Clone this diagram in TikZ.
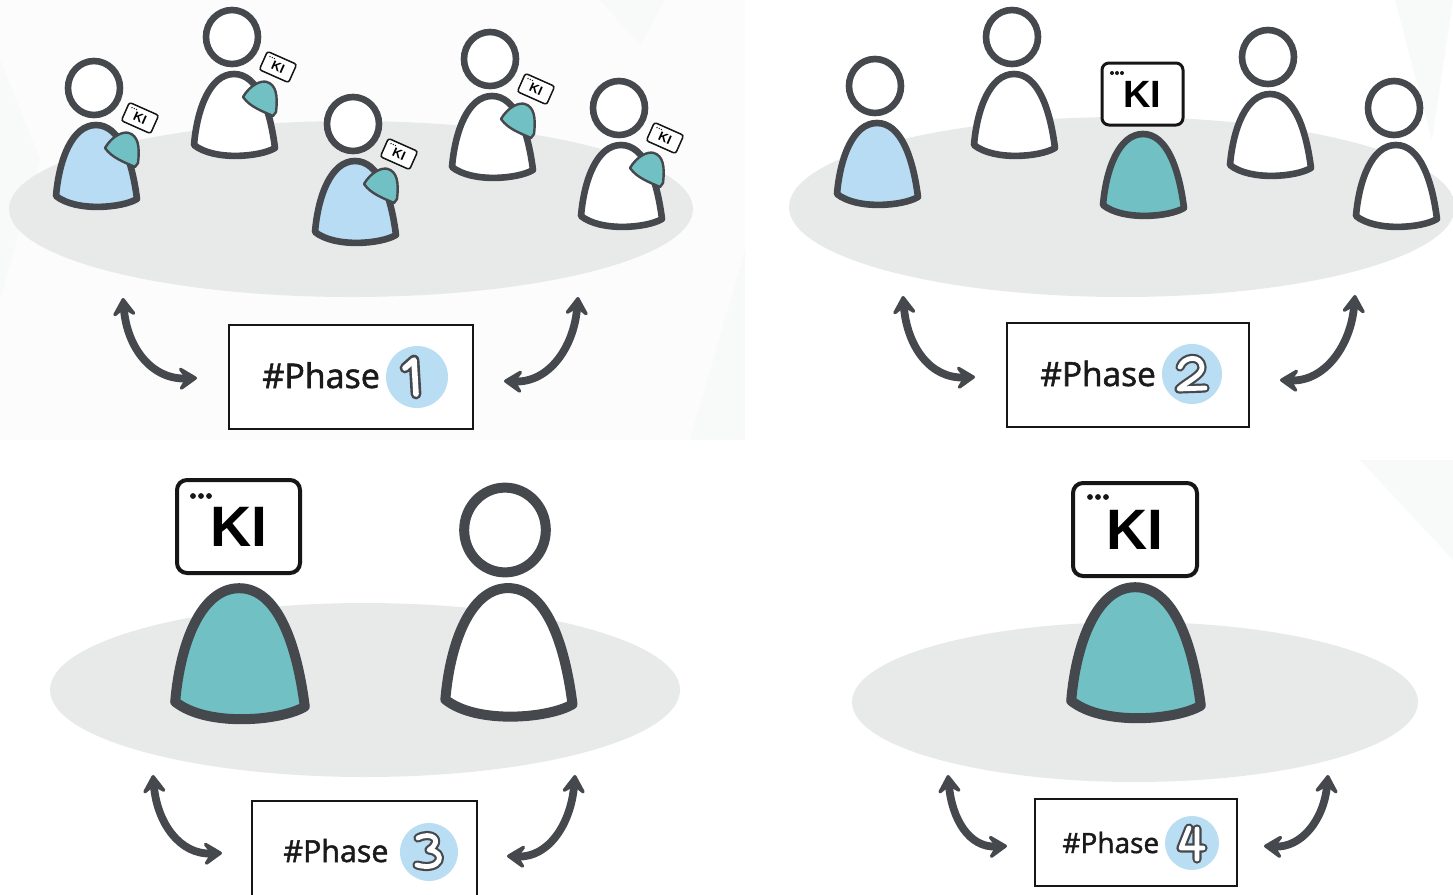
\documentclass[tikz,border=0pt]{standalone}
\usepackage{fontspec}
\setmainfont{Liberation Sans}
\newfontfamily\phasefont{Open Sans}[BoldFont={Open Sans}, BoldFeatures={FakeBold=1.6}]
\usetikzlibrary{arrows.meta,calc}

\definecolor{ink}{HTML}{45484C}
\definecolor{pblue}{HTML}{B8DCF3}
\definecolor{pteal}{HTML}{70C0C4}
\definecolor{floor}{HTML}{E8EAEA}
\definecolor{marker}{HTML}{161616}
\definecolor{txt}{HTML}{1A1A1A}
\definecolor{numblue}{HTML}{B9DDF3}
\definecolor{haze}{HTML}{F8F9F9}
\definecolor{panel}{HTML}{FCFCFC}

\tikzset{
  % bell shaped body, head centre at the origin, y pointing down
  torso/.pic={
    \draw[draw=ink, line join=round, fill=#1]
      (-38,108) .. controls (-35,72) and (-22,37) .. (2,37)
      .. controls (26,37) and (38,72) .. (43,111)
      .. controls (28,120) and (-18,124) .. (-38,108) -- cycle;
  },
  person/.pic={
    \draw[draw=ink, line join=round, fill=#1]
      (-38,108) .. controls (-35,72) and (-22,37) .. (2,37)
      .. controls (26,37) and (38,72) .. (43,111)
      .. controls (28,120) and (-18,124) .. (-38,108) -- cycle;
    \draw[draw=ink, fill=white] (0,0) ellipse (26 and 27);
  },
  % raised hand holding the small device
  arm/.pic={
    \draw[draw=ink, fill=pteal, line width=1.2pt, line join=round]
      (11,60) .. controls (18,48) and (29,43) .. (35,45)
      .. controls (44,48) and (46,58) .. (44,75) -- (41,79)
      .. controls (30,74) and (18,70) .. (11,60) -- cycle;
  },
  small/.style={line width=3.3pt},
  big/.style={line width=5pt},
  tag/.style={draw=marker, fill=white, line width=0.75pt, rounded corners=1.2pt,
    minimum width=16pt, minimum height=10pt, inner sep=0pt,
    font=\bfseries\fontsize{6.4pt}{6.4pt}\selectfont, text=black},
  kibox/.style={draw=marker, fill=white, inner sep=0pt, text=black},
  phasebox/.style={draw=marker, fill=white, line width=1.25pt, inner sep=0pt},
  phasetext/.style={text=txt, inner sep=0pt},
  numdisc/.style={circle, fill=numblue, inner sep=0pt},
  dgout/.style={draw=ink, line width=4.6pt, line cap=round, line join=round},
  dgin/.style={draw=white, line width=2.4pt, line cap=round, line join=round},
  tipshape/.tip={Stealth[length=11.5pt,width=15pt,inset=5pt,round]},
  biarrow/.style={draw=ink, line width=3.9pt, line cap=round, {tipshape}-{tipshape}},
}

% small device held by the people of the first group
\newcommand\handtag[2]{%
  \begin{scope}[shift={(#2)}, rotate=-24]
    \node[tag, transform shape] (#1) at (0,0) {KI};
    \foreach \i in {0,1,2} \fill[marker] (-11.5+\i*2.4,-6.3) circle (0.75);
  \end{scope}}

\newcommand\kidots[3]{%
  \foreach \i in {0,1,2} \fill[marker] ($(#1)+(\i*#2,0)$) circle (#3);}

\begin{document}
\begin{tikzpicture}[x=0.5pt, y=-0.5pt]
\useasboundingbox (0,0) rectangle (1453,895);
\fill[white] (0,0) rectangle (1453,895);

% ---------- faint background facets ----------
\fill[panel] (0,0) rectangle (745,440);
\fill[haze] (0,60) -- (40,160) -- (0,300) -- cycle;
\fill[haze] (600,0) -- (665,0) -- (640,45) -- cycle;
\fill[haze] (1395,0) -- (1453,0) -- (1432,140) -- cycle;
\fill[haze] (690,440) -- (745,250) -- (745,440) -- cycle;
\fill[haze] (1360,460) -- (1453,460) -- (1453,560) -- cycle;

% ---------- floors ----------
\fill[floor] (351,209) ellipse (342 and 88);
\fill[floor] (1122,207) ellipse (333 and 90);
\fill[floor] (365,690) ellipse (315 and 87);
\fill[floor] (1135,702) ellipse (283 and 80);

% ---------- phase 1: everybody uses a small device ----------
\pic[small] at (94,88) {person=pblue};
\pic at (94,88) {arm};
\handtag{t1}{140,118}
\pic[small] at (232,37) {person=white};
\pic at (232,37) {arm};
\handtag{t2}{278,67}
\pic[small] at (353,124) {person=pblue};
\pic at (353,124) {arm};
\handtag{t3}{399,154}
\pic[small] at (490,59) {person=white};
\pic at (490,59) {arm};
\handtag{t4}{536,89}
\pic[small] at (619,108) {person=white};
\pic at (619,108) {arm};
\handtag{t5}{665,138}

% ---------- phase 2: one member is the assistant ----------
\pic[small] at (875,86) {person=pblue};
\pic[small] at (1012,37) {person=white};
\pic[small] at (1141,97) {torso=pteal};
\node[kibox, line width=1.5pt, rounded corners=3.5pt, minimum width=40.5pt, minimum height=31pt,
  font=\bfseries\fontsize{19pt}{19pt}\selectfont] (k2) at (1142.5,94) {KI};
\coordinate (k2d) at (1112,73);
\kidots{k2d}{5}{2}
\pic[small] at (1268,57) {person=white};
\pic[small] at (1394,108) {person=white};

% ---------- phase 3: one person and the assistant ----------
\pic[big, scale=1.6] at (236,529) {torso=pteal};
\node[kibox, line width=2pt, rounded corners=5pt, minimum width=61.5pt, minimum height=46.5pt,
  font=\bfseries\fontsize{28.5pt}{28.5pt}\selectfont] (k3) at (238.5,526.5) {KI};
\coordinate (k3d) at (193,496);
\kidots{k3d}{8}{2.9}
\pic[big, scale=1.57] at (505,530) {person=white};

% ---------- phase 4: the assistant alone ----------
\pic[big, scale=1.6] at (1132,528) {torso=pteal};
\node[kibox, line width=2pt, rounded corners=5pt, minimum width=62pt, minimum height=46.5pt,
  font=\bfseries\fontsize{28.5pt}{28.5pt}\selectfont] (k4) at (1135,529.5) {KI};
\coordinate (k4d) at (1090,497);
\kidots{k4d}{8}{2.9}

% ---------- phase labels ----------
\node[phasebox, minimum width=122pt, minimum height=52pt] (b1) at (351,377) {};
\node[phasetext, anchor=base west, font=\phasefont\bfseries\fontsize{17pt}{17pt}\selectfont] (w1) at (262,388) {\#Phase};
\node[numdisc, minimum size=31pt] (n1) at (417,377) {};
\draw[dgout, line width=5.4pt, shift={(n1.center)}] (-12,-9) -- (-3,-17) -- (-1,17);
\draw[dgin, line width=2.8pt, shift={(n1.center)}] (-12,-9) -- (-3,-17) -- (-1,17);

\node[phasebox, minimum width=121pt, minimum height=52pt] (b2) at (1128,375) {};
\node[phasetext, anchor=base west, font=\phasefont\bfseries\fontsize{16.7pt}{16.7pt}\selectfont] (w2) at (1040,386) {\#Phase};
\node[numdisc, minimum size=30pt] (n2) at (1192,374) {};
\draw[dgout, shift={(n2.center)}] (-12,-7) .. controls (-8,-18) and (9,-19) .. (10,-7)
  .. controls (11,1) and (-6,8) .. (-13,15) -- (13,14);
\draw[dgin, shift={(n2.center)}] (-12,-7) .. controls (-8,-18) and (9,-19) .. (10,-7)
  .. controls (11,1) and (-6,8) .. (-13,15) -- (13,14);

\node[phasebox, minimum width=112.5pt, minimum height=52pt] (b3) at (364.5,853) {};
\node[phasetext, anchor=base west, font=\phasefont\bfseries\fontsize{15.2pt}{15.2pt}\selectfont] (w3) at (283,862) {\#Phase};
\node[numdisc, minimum size=29pt] (n3) at (429,852) {};
\draw[dgout, shift={(n3.center)}] (-11,-14) .. controls (2,-21) and (15,-12) .. (0,-2)
  .. controls (18,0) and (12,20) .. (-12,13);
\draw[dgin, shift={(n3.center)}] (-11,-14) .. controls (2,-21) and (15,-12) .. (0,-2)
  .. controls (18,0) and (12,20) .. (-12,13);

\node[phasebox, minimum width=101pt, minimum height=43.5pt] (b4) at (1136,842.5) {};
\node[phasetext, anchor=base west, font=\phasefont\bfseries\fontsize{14pt}{14pt}\selectfont] (w4) at (1062,853) {\#Phase};
\node[numdisc, minimum size=27pt] (n4) at (1192,843) {};
\draw[dgout, shift={(n4.center)}] (-3,-15) -- (-11,5) -- (11,5) (5,-14) -- (5,16);
\draw[dgin, shift={(n4.center)}] (-3,-15) -- (-11,5) -- (11,5) (5,-14) -- (5,16);

% ---------- exchange arrows ----------
\coordinate (a1t) at (123,298);  \coordinate (a1e) at (197,378);
\coordinate (a2t) at (578,297);  \coordinate (a2e) at (504,381);
\coordinate (a3t) at (903,296);  \coordinate (a3e) at (975,377);
\coordinate (a4t) at (1355,295); \coordinate (a4e) at (1280,380);
\coordinate (a5t) at (153,775);  \coordinate (a5e) at (222,853);
\coordinate (a6t) at (575,775);  \coordinate (a6e) at (507,856);
\coordinate (a7t) at (948,775);  \coordinate (a7e) at (1007,846);
\coordinate (a8t) at (1328,775); \coordinate (a8e) at (1264,846);

\draw[biarrow] (a1t) .. controls +(4,50) and +(-45,2) .. (a1e);
\draw[biarrow] (a2t) .. controls +(-4,50) and +(45,2) .. (a2e);
\draw[biarrow] (a3t) .. controls +(4,50) and +(-45,2) .. (a3e);
\draw[biarrow] (a4t) .. controls +(-4,50) and +(45,2) .. (a4e);
\draw[biarrow] (a5t) .. controls +(4,48) and +(-42,2) .. (a5e);
\draw[biarrow] (a6t) .. controls +(-4,48) and +(42,2) .. (a6e);
\draw[biarrow] (a7t) .. controls +(4,44) and +(-38,2) .. (a7e);
\draw[biarrow] (a8t) .. controls +(-4,44) and +(38,2) .. (a8e);
\end{tikzpicture}
\end{document}
